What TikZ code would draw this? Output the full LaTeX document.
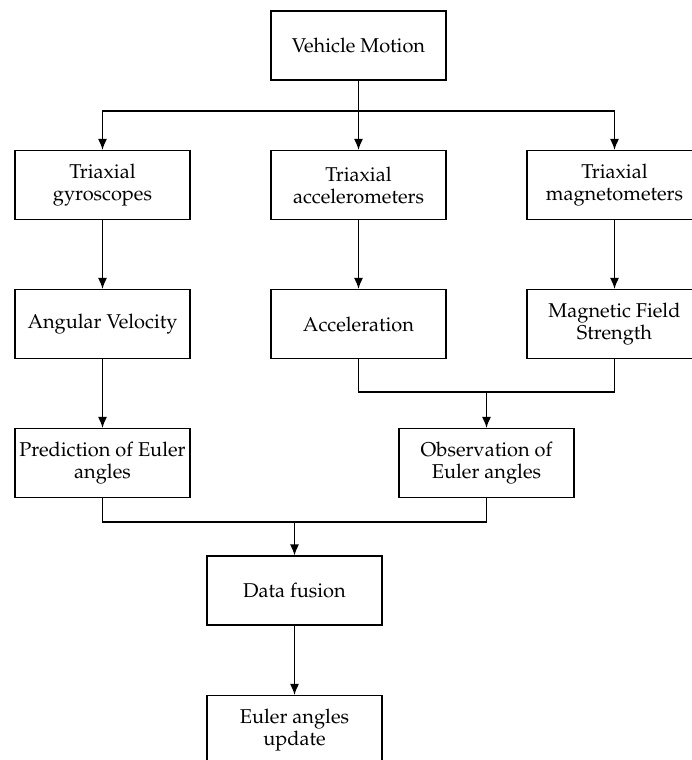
\documentclass[tikz,border=0pt]{standalone}
\usepackage[T1]{fontenc}
\usepackage{mathpazo}
\usetikzlibrary{arrows.meta}
\begin{document}
\begin{tikzpicture}[x=0.5pt,y=-0.5pt,
  box/.style={draw,line width=0.55pt,minimum width=87.5pt,minimum height=34.5pt,
    inner sep=1pt,align=center,font=\fontsize{10}{11}\selectfont},
  link/.style={line width=0.7pt},
  arr/.style={link,-{Latex[length=5.5pt,width=4.5pt]}}]
\useasboundingbox (0,0) rectangle (691,760);
% sensor layer
\node[box] (vm) at (358.5,45.5) {Vehicle Motion};
\node[box] (gyro) at (102.5,185) {Triaxial\\gyroscopes};
\node[box] (acc) at (358.5,185) {Triaxial\\accelerometers};
\node[box] (mag) at (614.5,185) {Triaxial\\magnetometers};
% measured quantities
\node[box] (angv) at (102.5,324) {Angular Velocity};
\node[box] (accel) at (358.5,324) {Acceleration};
\node[box] (mfs) at (614.5,324) {Magnetic Field\\Strength};
% estimation
\node[box] (pred) at (102.5,463) {Prediction of Euler\\angles};
\node[box] (obs) at (486.5,463) {Observation of\\Euler angles};
\node[box] (fusion) at (294.5,590.5) {Data fusion};
\node[box] (update) at (294.5,730) {Euler angles\\update};
% junctions
\coordinate (split) at (358.5,111);
\coordinate (join) at (486.5,392);
\coordinate (merge) at (294.5,522);

\draw[arr] (vm.south) -- (acc.north);
\draw[arr] (split) -| (gyro.north);
\draw[arr] (split) -| (mag.north);
\draw[arr] (gyro) -- (angv);
\draw[arr] (acc) -- (accel);
\draw[arr] (mag) -- (mfs);
\draw[arr] (angv) -- (pred);
\draw[link] (accel.south) |- (join) -| (mfs.south);
\draw[arr] (join) -- (obs.north);
\draw[link] (pred.south) |- (merge) -| (obs.south);
\draw[arr] (merge) -- (fusion.north);
\draw[arr] (fusion) -- (update);
\end{tikzpicture}
\end{document}
